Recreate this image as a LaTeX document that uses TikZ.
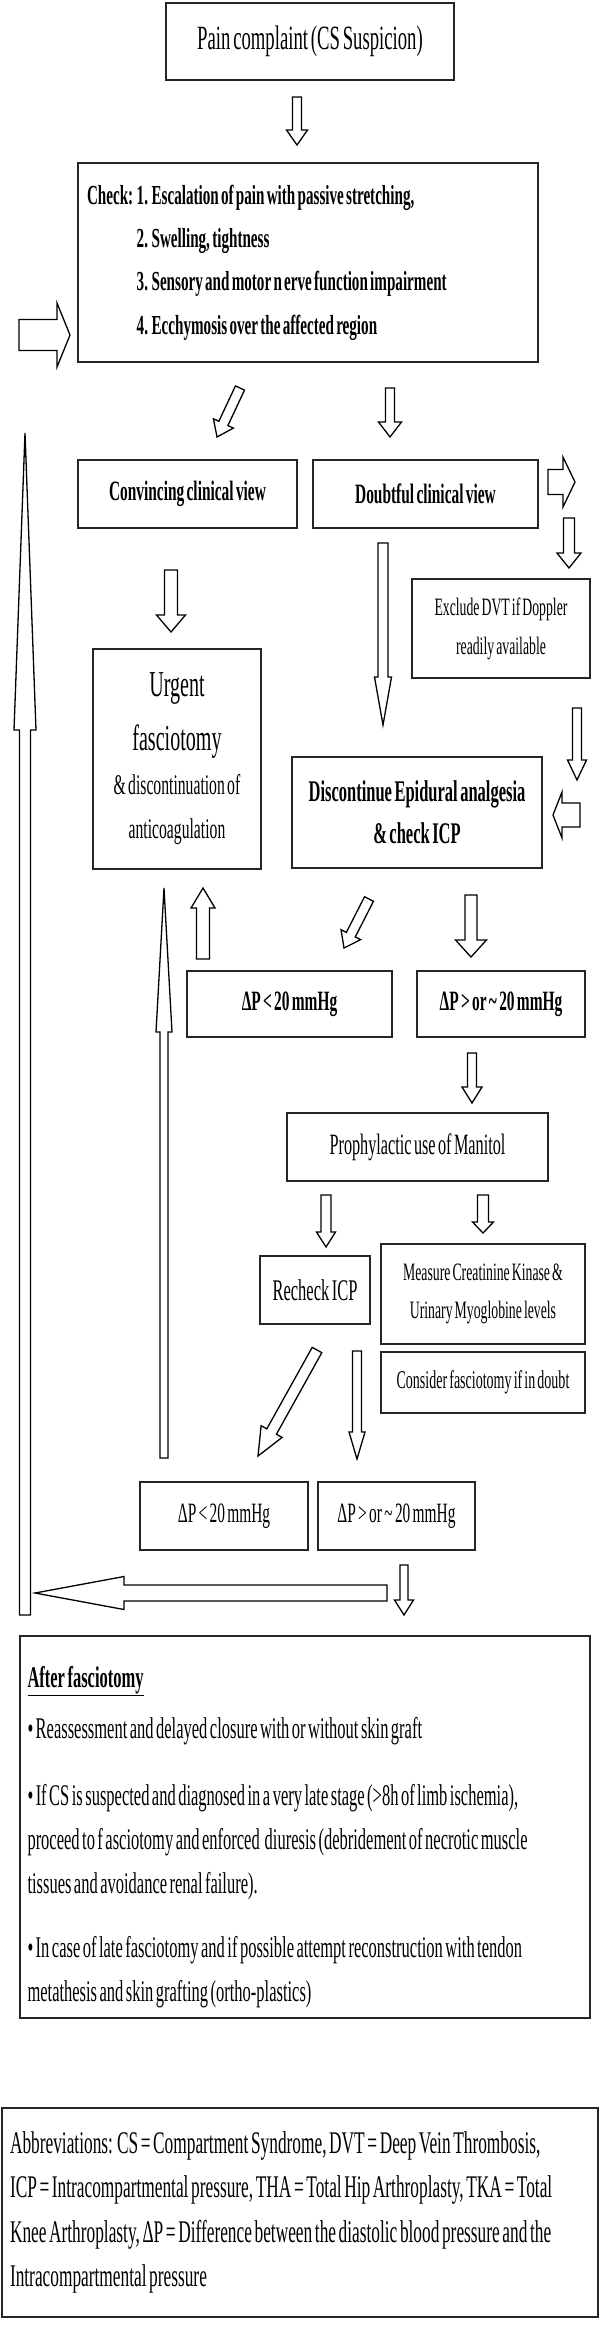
\documentclass[tikz,border=0pt]{standalone}
\usepackage{fontspec}
\setmainfont{Liberation Serif}[FakeStretch=0.55, WordSpace=0.6]
\usetikzlibrary{calc}

\newcommand{\fs}[2]{\fontsize{#1}{#2}\selectfont}
\newcommand{\blockarrow}[5]{%
  \coordinate (ba-h) at ($#2!#5!#1$);
  \draw[blockline] ($#1!#3!90:#2$) -- ($(ba-h)!#3!90:#2$) -- ($(ba-h)!#4!90:#2$) -- #2
    -- ($(ba-h)!#4!-90:#2$) -- ($(ba-h)!#3!-90:#2$) -- ($#1!#3!-90:#2$) -- cycle;}

\begin{document}
\begin{tikzpicture}[x=1pt, y=-1pt,
    box/.style={draw=black!85, line width=1.4pt, inner sep=0pt, align=center},
    textbox/.style={box, align=left, execute at begin node={\spaceskip=0pt\xspaceskip=0pt}},
    blockline/.style={draw=black, line width=1.3pt, line join=miter, fill=white}]
    \useasboundingbox (0,0) rectangle (600,2326);

    \node[box, minimum width=288pt, minimum height=77pt, font=\fs{34}{40}] (pain) at (310,41.5) {Pain complaint (CS Suspicion)};
    \node[textbox, minimum width=460pt, minimum height=199pt, text width=442pt, font=\bfseries\fs{27.5}{43.3}] (check) at (308,262.5)
        {Check: 1. Escalation of pain with passive stretching,\\\phantom{Check: }2. Swelling, tightness\\\phantom{Check: }3. Sensory and motor n erve function impairment\\\phantom{Check: }4. Ecchymosis over the affected region};
    \node[box, minimum width=219pt, minimum height=68pt, font=\bfseries\fs{28}{34}] (convincing) at (187.5,494) {Convincing clinical view};
    \node[box, minimum width=225pt, minimum height=68pt, font=\bfseries\fs{28}{34}] (doubtful) at (425.5,494) {Doubtful clinical view};
    \node[box, minimum width=178pt, minimum height=99pt, font=\fs{25}{39}] (exclude) at (501,628.5) {Exclude DVT if Doppler\\readily available};
    \node[box, minimum width=168pt, minimum height=220pt] (urgent) at (177,759)
        {\parbox{164pt}{\centering\fs{36.5}{54}Urgent\\fasciotomy\par\fs{28.5}{44}\& discontinuation of\\anticoagulation\par}};
    \node[box, minimum width=250pt, minimum height=111pt, font=\bfseries\fs{30}{42}] (discontinue) at (417,812.5) {Discontinue Epidural analgesia\\\& check ICP};
    \node[box, minimum width=205pt, minimum height=66pt, font=\bfseries\fs{28}{34}] (lowA) at (289.5,1004) {ΔP < 20 mmHg};
    \node[box, minimum width=168pt, minimum height=66pt, font=\bfseries\fs{28}{34}] (highA) at (501,1004) {ΔP > or \textasciitilde{} 20 mmHg};
    \node[box, minimum width=261pt, minimum height=68pt, font=\fs{29.5}{35}] (manitol) at (417.5,1147) {Prophylactic use of Manitol};
    \node[box, minimum width=110pt, minimum height=68pt, font=\fs{30}{35}] (recheck) at (315,1290) {Recheck ICP};
    \node[box, minimum width=204pt, minimum height=100pt, font=\fs{25}{38}] (measure) at (483,1294) {Measure Creatinine Kinase \&\\Urinary Myoglobine levels};
    \node[box, minimum width=204pt, minimum height=61pt, font=\fs{25.5}{30}] (consider) at (483,1382.5) {Consider fasciotomy if in doubt};
    \node[box, minimum width=168pt, minimum height=68pt, font=\fs{28}{34}] (lowB) at (224,1516) {ΔP < 20 mmHg};
    \node[box, minimum width=157pt, minimum height=68pt, font=\fs{28}{34}] (highB) at (396.5,1516) {ΔP > or \textasciitilde{} 20 mmHg};
    \node[textbox, minimum width=570pt, minimum height=382pt, text width=555pt, font=\fs{30}{44}] (after) at (305,1827)
        {\rule{0pt}{41pt}\textbf{\underline{After fasciotomy}}\\[7pt]
        \textbullet\ Reassessment and delayed closure with or without skin graft\\[23pt]
        \textbullet\ If CS is suspected and diagnosed in a very late stage (>8h of limb ischemia),\\
        proceed to f asciotomy and enforced\ \ diuresis (debridement of necrotic muscle\\
        tissues and avoidance renal failure).\\[20pt]
        \textbullet\ In case of late fasciotomy and if possible attempt reconstruction with tendon\\
        metathesis and skin grafting (ortho-plastics)};
    \node[textbox, minimum width=596pt, minimum height=209pt, text width=580pt, font=\fs{31.5}{44.3}] (abbrev) at (300,2212.5)
        {Abbreviations: CS = Compartment Syndrome, DVT = Deep Vein Thrombosis,\\
        ICP = Intracompartmental pressure, THA = Total Hip Arthroplasty, TKA = Total\\
        Knee Arthroplasty, ΔP = Difference between the diastolic blood pressure and the\\
        Intracompartmental pressure};

    \coordinate (a1s) at (297,97);    \coordinate (a1e) at (297,145);
    \coordinate (a2s) at (19,335);    \coordinate (a2e) at (70,335);
    \coordinate (a3s) at (240,388);   \coordinate (a3e) at (217,437);
    \coordinate (a4s) at (390,388);   \coordinate (a4e) at (390,437);
    \coordinate (a5s) at (548,482);   \coordinate (a5e) at (575,482);
    \coordinate (a6s) at (569,518);   \coordinate (a6e) at (569,568);
    \coordinate (a7s) at (383,543);   \coordinate (a7e) at (383,725);
    \coordinate (a8s) at (171,570);   \coordinate (a8e) at (171,632);
    \coordinate (a9s) at (25,1615);   \coordinate (a9e) at (25,433);
    \coordinate (a10s) at (577,708);  \coordinate (a10e) at (577,780);
    \coordinate (a11s) at (580,815);  \coordinate (a11e) at (553,815);
    \coordinate (a12s) at (203,959);  \coordinate (a12e) at (203,888);
    \coordinate (a13s) at (164,1458); \coordinate (a13e) at (164,888);
    \coordinate (a14s) at (369,899);  \coordinate (a14e) at (344,948);
    \coordinate (a15s) at (471,895);  \coordinate (a15e) at (471,957);
    \coordinate (a16s) at (472,1053); \coordinate (a16e) at (472,1103);
    \coordinate (a17s) at (326,1195); \coordinate (a17e) at (326,1247);
    \coordinate (a18s) at (483,1195); \coordinate (a18e) at (483,1233);
    \coordinate (a19s) at (317,1350); \coordinate (a19e) at (258,1456);
    \coordinate (a20s) at (357,1351); \coordinate (a20e) at (357,1459);
    \coordinate (a21s) at (387,1593); \coordinate (a21e) at (35,1593);
    \coordinate (a22s) at (404,1565); \coordinate (a22e) at (404,1615);

    \blockarrow{(a1s)}{(a1e)}{4.5pt}{10.5pt}{15pt}
    \blockarrow{(a2s)}{(a2e)}{15.5pt}{32pt}{13pt}
    \blockarrow{(a3s)}{(a3e)}{5pt}{11pt}{15pt}
    \blockarrow{(a4s)}{(a4e)}{4.5pt}{11.5pt}{15pt}
    \blockarrow{(a5s)}{(a5e)}{12.5pt}{25pt}{12pt}
    \blockarrow{(a6s)}{(a6e)}{5.5pt}{12pt}{15pt}
    \blockarrow{(a7s)}{(a7e)}{5pt}{8.5pt}{48pt}
    \blockarrow{(a8s)}{(a8e)}{6.5pt}{14.5pt}{17pt}
    \blockarrow{(a9s)}{(a9e)}{5.5pt}{11pt}{297pt}
    \blockarrow{(a10s)}{(a10e)}{4.5pt}{9.5pt}{20pt}
    \blockarrow{(a11s)}{(a11e)}{12pt}{23pt}{9pt}
    \blockarrow{(a12s)}{(a12e)}{6.5pt}{12pt}{20pt}
    \blockarrow{(a13s)}{(a13e)}{4pt}{8pt}{144pt}
    \blockarrow{(a14s)}{(a14e)}{5pt}{11pt}{15pt}
    \blockarrow{(a15s)}{(a15e)}{6pt}{15.5pt}{17pt}
    \blockarrow{(a16s)}{(a16e)}{4.5pt}{10pt}{16pt}
    \blockarrow{(a17s)}{(a17e)}{5pt}{9.5pt}{15pt}
    \blockarrow{(a18s)}{(a18e)}{5.5pt}{10.5pt}{11pt}
    \blockarrow{(a19s)}{(a19e)}{5.5pt}{12pt}{28pt}
    \blockarrow{(a20s)}{(a20e)}{4.5pt}{8pt}{27pt}
    \blockarrow{(a21s)}{(a21e)}{8pt}{16.5pt}{89pt}
    \blockarrow{(a22s)}{(a22e)}{4pt}{9.5pt}{15pt}
\end{tikzpicture}
\end{document}
